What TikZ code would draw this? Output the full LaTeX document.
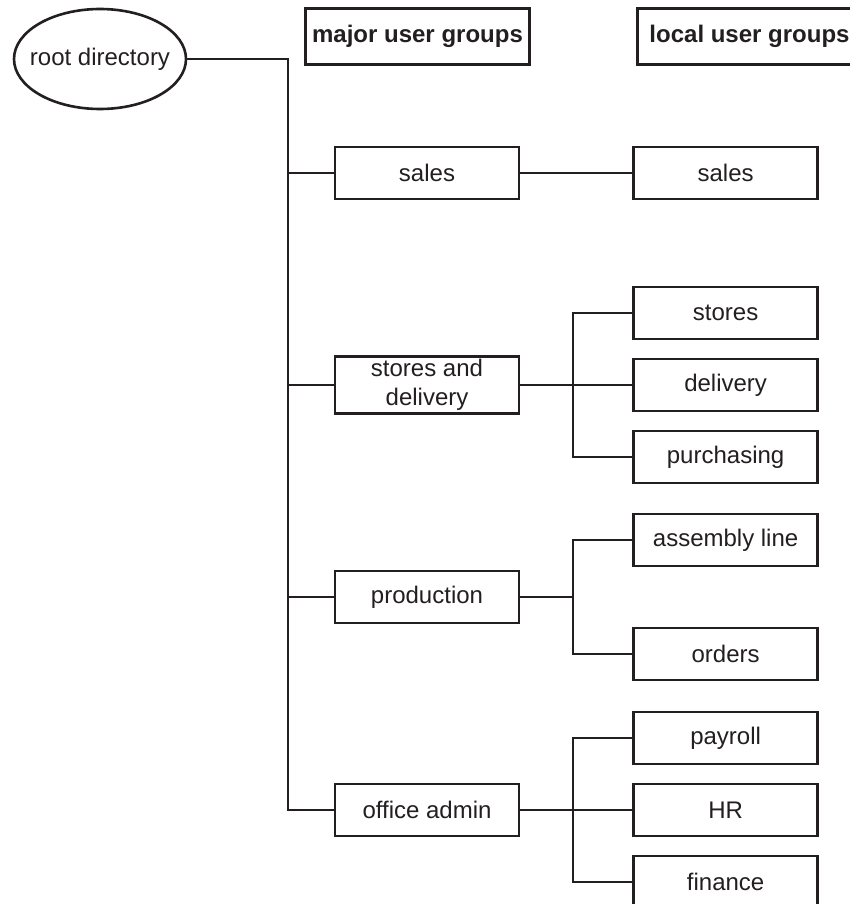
\documentclass[tikz,border=0pt]{standalone}
\usepackage{fontspec}
\setmainfont{Liberation Sans}
\usepackage{tikz}
\usetikzlibrary{shapes.geometric, positioning, calc}
\definecolor{myink}{RGB}{35,31,32}
\tikzset{
  groupbox/.style={rectangle, draw=myink, text=myink, fill=white,
    minimum width=92pt, minimum height=26pt, inner sep=1.5pt,
    align=center, font=\fontsize{12}{14.5}\selectfont, line width=1.3pt},
  headbox/.style={rectangle, draw=myink, text=myink,
    minimum width=112pt, minimum height=28pt, inner sep=1.5pt,
    font=\fontsize{12}{14.5}\selectfont\bfseries, line width=1.3pt},
  line/.style={line width=1.3pt, color=myink}
}

\begin{document}
\begin{tikzpicture}[x=0.5pt, y=-0.5pt, node distance=8.75pt and 56pt,
  rootnode/.style={ellipse, draw=myink, text=myink, minimum width=86pt, minimum height=50pt, inner sep=0pt, font=\fontsize{12}{14.5}\selectfont, line width=1.3pt}]

  \useasboundingbox (0,0) rectangle (850,904);

  % Headers
  \node[headbox] (major) at (417.5,36.5) {major user groups};
  \node[headbox] (local) at (749.5,36.5) {local user groups};

  % Nodes
  \node[rootnode] (root) at (100,59) {\makebox[0pt]{root directory}};
  \node[groupbox] (sales) at (427,173) {sales};
  \node[groupbox] (sd) at (427,385) {stores and\\delivery};
  \node[groupbox] (prod) at (427,597) {production};
  \node[groupbox] (office) at (427,810) {office admin};

  \node[groupbox, right=of sales] (lsales) {sales};

  \node[groupbox, right=of sd] (delivery) {delivery};
  \node[groupbox, above=of delivery] (stores) {stores};
  \node[groupbox, below=of delivery] (purchasing) {purchasing};

  \node[groupbox, right=of prod, yshift=28.5pt] (assembly) {assembly line};
  \node[groupbox, right=of prod, yshift=-28.5pt] (orders) {orders};

  \node[groupbox, right=of office] (hr) {HR};
  \node[groupbox, above=of hr] (payroll) {payroll};
  \node[groupbox, below=of hr] (finance) {finance};

  % Paths
  \coordinate (trunk) at (288,59);
  \draw[line] (root.east) -- (trunk) |- (office.west);
  \foreach \grp in {sales, sd, prod}
    \draw[line] (trunk |- \grp.west) -- (\grp.west);

  \draw[line] (sales) -- (lsales);

  \coordinate (sdfork) at ($(sd.east)!0.47!(delivery.west)$);
  \draw[line] (sd.east) -- (delivery.west);
  \draw[line] (stores.west) -| (sdfork) |- (purchasing.west);

  \coordinate (pfork) at ($(sd.east |- prod.east)!0.47!(delivery.west |- prod.east)$);
  \draw[line] (prod.east) -- (pfork);
  \draw[line] (assembly.west) -| (pfork) |- (orders.west);

  \coordinate (ofork) at ($(office.east)!0.47!(hr.west)$);
  \draw[line] (office.east) -- (hr.west);
  \draw[line] (payroll.west) -| (ofork) |- (finance.west);

\end{tikzpicture}
\end{document}
